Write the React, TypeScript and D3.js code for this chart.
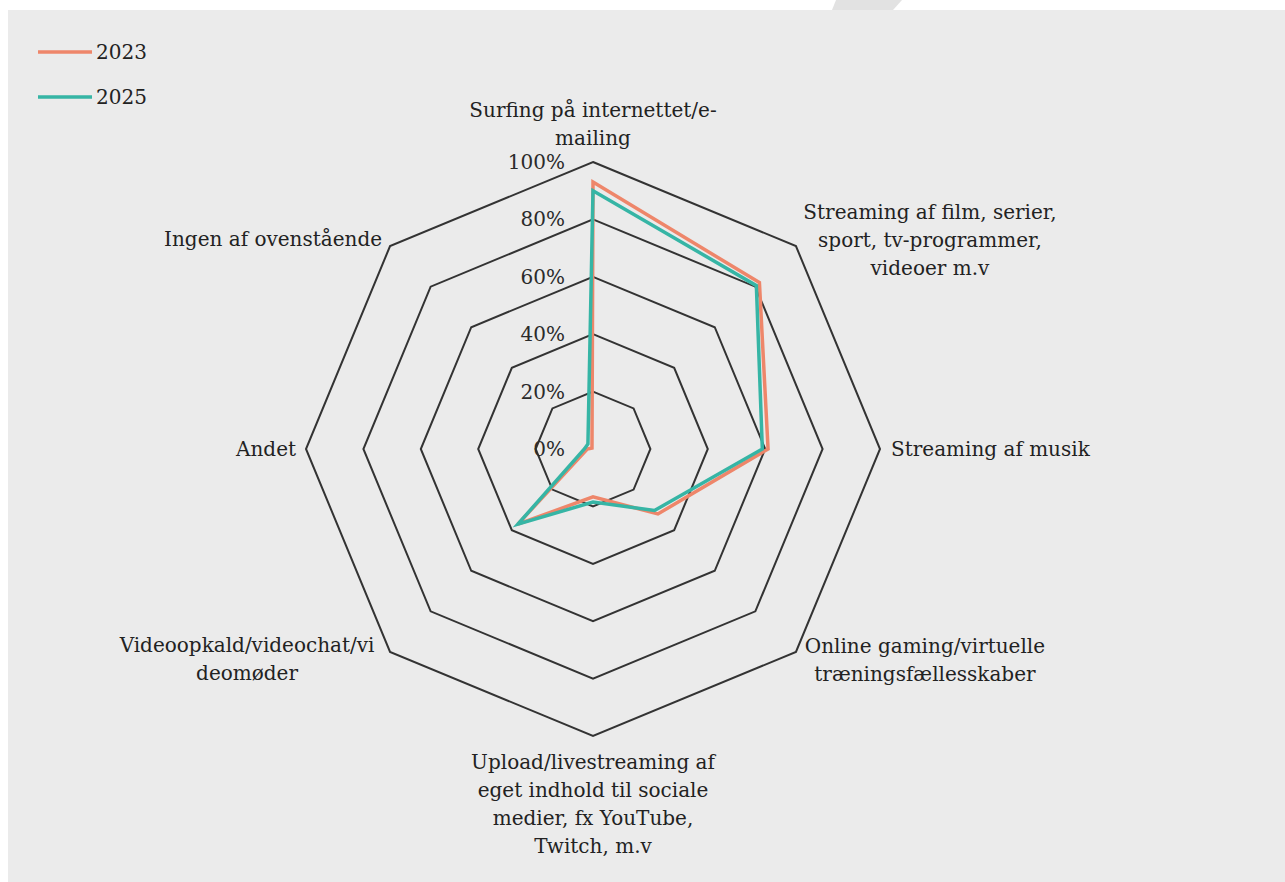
import React from "react";
import * as d3 from "d3";

const categories: string[][] = [
  ["Surfing på internettet/e-", "mailing"],
  ["Streaming af film, serier,", "sport, tv-programmer,", "videoer m.v"],
  ["Streaming af musik"],
  ["Online gaming/virtuelle", "træningsfællesskaber"],
  ["Upload/livestreaming af", "eget indhold til sociale", "medier, fx YouTube,", "Twitch, m.v"],
  ["Videoopkald/videochat/vi", "deomøder"],
  ["Andet"],
  ["Ingen af ovenstående"],
];
const series2023 = [0.93, 0.82, 0.61, 0.32, 0.167, 0.37, 0.02, 0.005];
const series2025 = [0.90, 0.805, 0.59, 0.303, 0.185, 0.37, 0.03, 0.025];
const seriesNames = ["2023", "2025"];
const tickValues = [0, 0.2, 0.4, 0.6, 0.8, 1.0];
const tickLabels = ["0%", "20%", "40%", "60%", "80%", "100%"];

const COLORS = ["#EE866A", "#36B5A5"];
const FONT = "'DejaVu Serif', serif";
const FS = 20;

export default function App() {
  const W = 1285, H = 882;
  const cx = 593, cy = 449;
  const r = d3.scaleLinear().domain([0, 1]).range([0, 287]);
  const n = categories.length;
  const angle = d3.scaleLinear().domain([0, n]).range([0, 2 * Math.PI]);

  const ring = (v: number) =>
    d3.lineRadial<number>().angle((_, i) => angle(i)).radius(() => r(v)).curve(d3.curveLinearClosed)(d3.range(n))!;
  const seriesLine = d3
    .lineRadial<number>()
    .angle((_, i) => angle(i))
    .radius((d) => r(d))
    .curve(d3.curveLinearClosed);

  const pt = (i: number, rad: number) => {
    const a = angle(i);
    return [cx + rad * Math.sin(a), cy - rad * Math.cos(a)];
  };

  const lineH = 28;
  const labelLayout = (i: number) => {
    const [x, y] = pt(i, r(1));
    switch (i) {
      case 0:
        return { x, y: y - 45, anchor: "middle" };
      case 1:
        return { x: x + 134, y: y - 27, anchor: "middle" };
      case 2:
        return { x: x + 11, y: y + 7, anchor: "start" };
      case 3:
        return { x: x + 129, y: y + 1, anchor: "middle" };
      case 4:
        return { x, y: y + 33, anchor: "middle" };
      case 5:
        return { x: x - 143, y: y + 0, anchor: "middle" };
      case 6:
        return { x: x - 10, y: y + 7, anchor: "end" };
      default:
        return { x: x - 8, y: y + 0, anchor: "end" };
    }
  };

  return (
    <svg width={W} height={H} style={{ position: "absolute", left: 0, top: 0, background: "#ffffff" }}>
      <polygon points="836,0 902,0 893,10 832,10" fill="#e2e2e2" />
      <rect x={8} y={10} width={W - 8} height={H - 10} fill="#ebebeb" />
      <g transform={`translate(${cx},${cy})`}>
        {tickValues.slice(1).map((v) => (
          <path key={v} d={ring(v)} fill="none" stroke="#333333" strokeWidth={2} />
        ))}
        {[series2023, series2025].map((s, k) => (
          <path
            key={k}
            d={seriesLine(s)!}
            fill="none"
            stroke={COLORS[k]}
            strokeWidth={3.5}
            strokeLinejoin="miter"
          />
        ))}
      </g>
      {tickValues.map((v, i) => (
        <text
          key={v}
          x={cx - 28}
          y={cy - r(v) + 7}
          textAnchor="end"
          fontFamily={FONT}
          fontSize={FS}
          fill="#2a2a2a"
        >
          {tickLabels[i]}
        </text>
      ))}
      {categories.map((lines, i) => {
        const L = labelLayout(i);
        return (
          <text key={i} fontFamily={FONT} fontSize={FS} fill="#222222" textAnchor={L.anchor as any}>
            {lines.map((ln, j) => (
              <tspan key={j} x={L.x} y={L.y + j * lineH}>
                {ln}
              </tspan>
            ))}
          </text>
        );
      })}
      {seriesNames.map((nm, k) => (
        <g key={nm} transform={`translate(38,${52 + k * 45})`}>
          <line x1={0} x2={54} y1={0} y2={0} stroke={COLORS[k]} strokeWidth={3.5} />
          <text x={58} y={7} fontFamily={FONT} fontSize={FS} fill="#222222">
            {nm}
          </text>
        </g>
      ))}
    </svg>
  );
}
